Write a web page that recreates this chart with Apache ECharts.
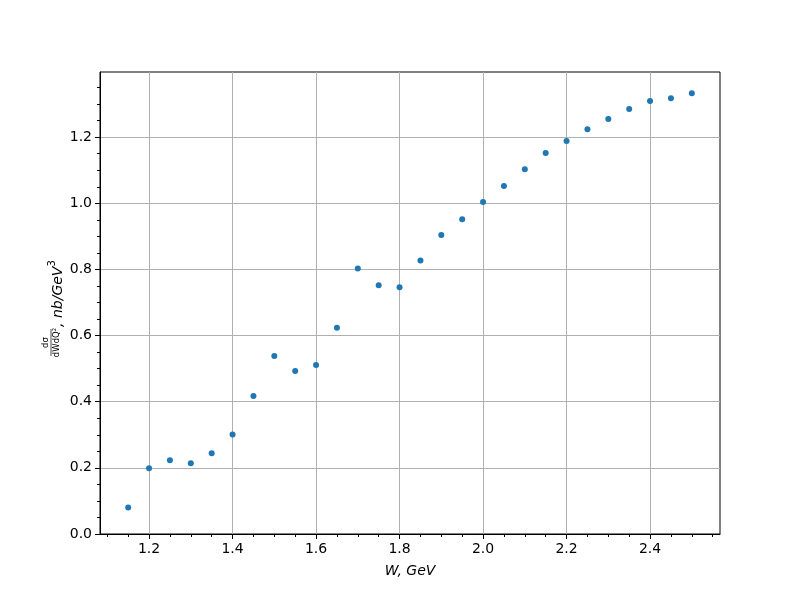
<!DOCTYPE html>
<html>
<head>
<meta charset="utf-8">
<script src="https://cdn.jsdelivr.net/npm/echarts@6/dist/echarts.min.js"></script>
<style>html,body{margin:0;padding:0;background:#fff}#c{width:800px;height:600px}</style>
</head>
<body>
<div id="c"></div>
<script>
const W = [1.15,1.2,1.25,1.3,1.35,1.4,1.45,1.5,1.55,1.6,1.65,1.7,1.75,1.8,1.85,1.9,1.95,2.0,2.05,2.1,2.15,2.2,2.25,2.3,2.35,2.4,2.45,2.5];
const sigma = [0.080,0.199,0.223,0.214,0.244,0.301,0.417,0.538,0.493,0.511,0.624,0.803,0.752,0.746,0.827,0.904,0.952,1.004,1.052,1.103,1.152,1.188,1.224,1.255,1.285,1.309,1.318,1.333];
const xMajor = [1.2,1.4,1.6,1.8,2.0,2.2,2.4];
const xMinor = [1.1,1.15,1.25,1.3,1.35,1.45,1.5,1.55,1.65,1.7,1.75,1.85,1.9,1.95,2.05,2.1,2.15,2.25,2.3,2.35,2.45,2.5,2.55];
const yMajor = [0.0,0.2,0.4,0.6,0.8,1.0,1.2];
const yMinor = [0.05,0.1,0.15,0.25,0.3,0.35,0.45,0.5,0.55,0.65,0.7,0.75,0.85,0.9,0.95,1.05,1.1,1.15,1.25,1.3,1.35];
const xRange = [1.0825, 2.5675];
const yRange = [0, 1.397];

const chart = echarts.init(document.getElementById('c'), null, {renderer:'canvas'});
const font = 'DejaVu Sans';
const tickStyle = {color:'#000', width:1};
function majorAxis(range, major, extra){
  return Object.assign({
    type:'value', min:range[0], max:range[1],
    axisLine:{show:true, onZero:false, lineStyle:{color:'#000', width:1}},
    axisTick:{show:true, inside:false, length:5, customValues:major, lineStyle:tickStyle},
    axisLabel:{show:true, customValues:major, margin:8, color:'#000', fontFamily:font, fontSize:14,
      formatter:v=>Number(v).toFixed(1)},
    splitLine:{show:true, lineStyle:{color:'#b0b0b0', width:1}},
    minorTick:{show:false}
  }, extra||{});
}
function minorAxis(range, minor, pos){
  return {
    type:'value', min:range[0], max:range[1], position:pos,
    axisLine:{show:false, onZero:false},
    axisTick:{show:true, inside:false, length:3, customValues:minor, lineStyle:tickStyle},
    axisLabel:{show:false},
    splitLine:{show:false}
  };
}
chart.setOption({
  animation:false,
  backgroundColor:'#fff',
  grid:{left:100, right:80, top:72, bottom:66, show:true, borderColor:'#000', borderWidth:1, backgroundColor:'transparent'},
  xAxis:[
    majorAxis(xRange, xMajor, {position:'bottom', name:'W, GeV', nameLocation:'middle', nameGap:30,
      nameTextStyle:{fontFamily:font, fontSize:14, fontStyle:'italic', color:'#000'}}),
    minorAxis(xRange, xMinor, 'bottom')
  ],
  yAxis:[
    majorAxis(yRange, yMajor, {position:'left'}),
    minorAxis(yRange, yMinor, 'left')
  ],
  series:[{
    type:'scatter', xAxisIndex:0, yAxisIndex:0,
    data:W.map((w,i)=>[w, sigma[i]]),
    symbol:'circle', symbolSize:6,
    itemStyle:{color:'#1f77b4', opacity:1}
  }],
  graphic:[{
    type:'group', x:51, y:356, rotation:Math.PI/2,
    children:[
      {type:'text', x:13.5, y:-1, style:{text:'dσ', fontFamily:font, fontSize:8.5, fill:'#000', align:'center', verticalAlign:'bottom'}},
      {type:'line', shape:{x1:0, y1:0, x2:27, y2:0}, style:{stroke:'#000', lineWidth:0.7}},
      {type:'text', x:13.5, y:1, style:{text:'dWdQ²', fontFamily:font, fontSize:8.5, fill:'#000', align:'center', verticalAlign:'top'}},
      {type:'text', x:29, y:5, style:{
        text:'{m|, nb/GeV}{s|3}', align:'left', verticalAlign:'middle', fill:'#000',
        rich:{
          m:{fontFamily:font, fontSize:14, fontStyle:'italic', lineHeight:18, verticalAlign:'bottom', fill:'#000'},
          s:{fontFamily:font, fontSize:10, fontStyle:'normal', lineHeight:18, verticalAlign:'top', fill:'#000'}
        }}}
    ]
  }]
});
</script>
</body>
</html>
